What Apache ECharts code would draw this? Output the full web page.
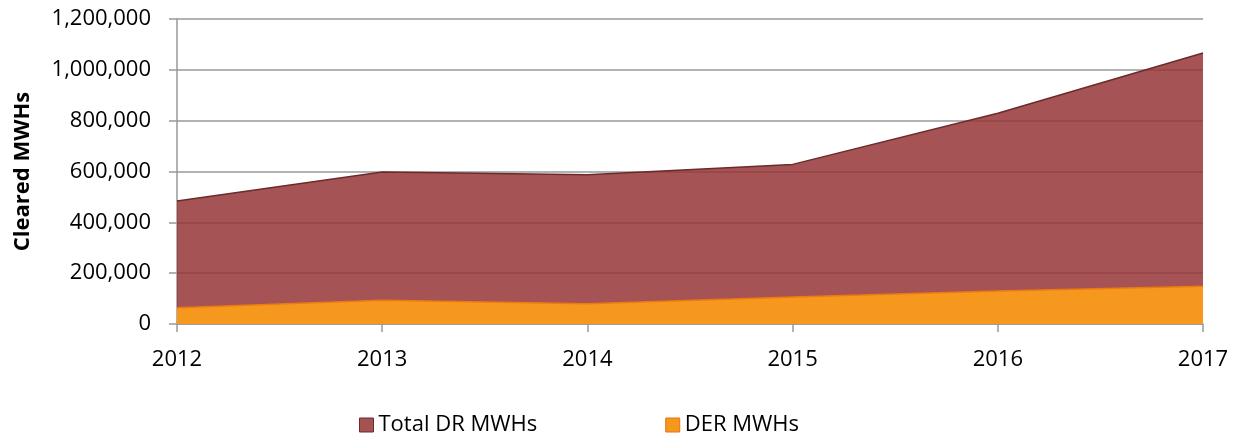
<!DOCTYPE html>
<html>
<head>
<meta charset="utf-8">
<script src="https://cdn.jsdelivr.net/npm/echarts@6/dist/echarts.min.js"></script>
<style>
  html, body { margin: 0; padding: 0; background: #fff; }
  #main { width: 1244px; height: 437px; }
</style>
</head>
<body>
<div id="main"></div>
<script>
var years = ['2012', '2013', '2014', '2015', '2016', '2017'];
var totalDR = [484000, 598000, 587000, 628000, 829000, 1066000];
var derMWh = [64000, 93000, 80000, 106000, 130000, 149000];

var chart = echarts.init(document.getElementById('main'));
var font = 'Open Sans';

var option = {
    animation: false,
    textStyle: { fontFamily: font },
    grid: { left: 177, right: 41, top: 19, bottom: 113, containLabel: false },
    legend: {
        left: 354,
        top: 409,
        itemWidth: 14,
        itemHeight: 14,
        itemGap: 128,
        textStyle: { fontFamily: font, fontSize: 22, color: '#000' },
        data: [
            { name: 'Total DR MWHs', icon: 'rect', itemStyle: { color: '#a55253', borderColor: '#6b2b2b', borderWidth: 1 } },
            { name: 'DER MWHs', icon: 'rect', itemStyle: { color: '#f5981d', borderColor: '#e8730e', borderWidth: 1 } }
        ]
    },
    xAxis: {
        type: 'category',
        data: years,
        boundaryGap: false,
        axisLine: { lineStyle: { color: '#999', width: 1.5 } },
        axisTick: { show: true, length: 8, lineStyle: { color: '#999', width: 1.5 } },
        axisLabel: { color: '#000', fontSize: 22, fontFamily: font, margin: 25 },
        splitLine: { show: false }
    },
    yAxis: {
        type: 'value',
        min: 0,
        max: 1200000,
        interval: 200000,
        name: 'Cleared MWHs',
        nameLocation: 'middle',
        nameGap: 143,
        nameTextStyle: { fontFamily: font, fontSize: 22, fontWeight: 'bold', color: '#000' },
        axisLine: { show: true, lineStyle: { color: '#999', width: 1.5 } },
        axisTick: { show: true, length: 8, lineStyle: { color: '#999', width: 1.5 } },
        axisLabel: {
            color: '#000', fontSize: 22, fontFamily: font, margin: 26,
            formatter: function (v) { return v.toLocaleString('en-US'); }
        },
        splitLine: { show: true, lineStyle: { color: '#999', width: 1.5 } }
    },
    series: [
        {
            name: 'Total DR MWHs',
            type: 'line',
            data: totalDR,
            symbol: 'none',
            lineStyle: { color: '#6b2b2b', width: 1.5 },
            itemStyle: { color: '#a55253' },
            areaStyle: { color: 'rgba(149,53,54,0.85)', opacity: 1 }
        },
        {
            name: 'DER MWHs',
            type: 'line',
            data: derMWh,
            symbol: 'none',
            lineStyle: { color: '#ec7a12', width: 1.5 },
            itemStyle: { color: '#f5981d' },
            areaStyle: { color: '#f5981d', opacity: 1 }
        }
    ]
};
chart.setOption(option);
</script>
</body>
</html>
